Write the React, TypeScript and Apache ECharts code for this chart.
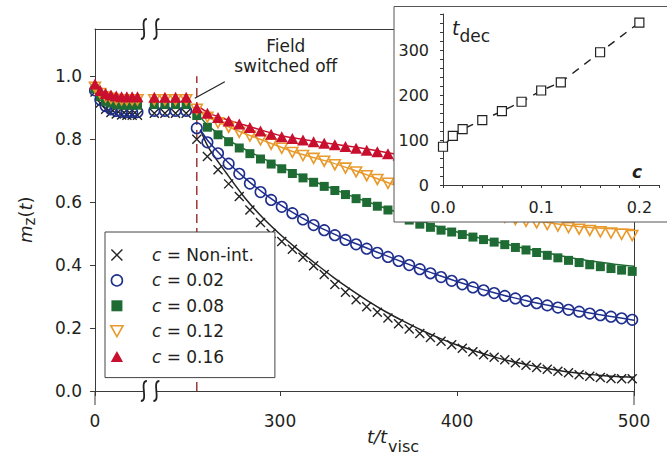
import React, { useEffect, useRef } from "react";
import * as echarts from "echarts";

// ---------- data ----------
// times (t / t_visc) of the markers while the field is on
const T_PRE = [0, 3, 6, 9, 12, 15, 18, 21, 24, 229, 235, 241, 247];
// times of the markers after the field is switched off
const T_POST = [
  253, 259, 265, 271, 277, 283, 289, 295, 301, 307, 313, 319, 325, 331,
  337, 343, 349, 355, 361, 367, 373, 379, 385, 391, 397, 403, 409, 415,
  421, 427, 433, 439, 445, 451, 457, 463, 469, 475, 481, 487, 493, 499,
];
// times of the fitted curves
const T_FIT = [
  255, 260, 270, 280, 290, 300, 310, 320, 330, 340, 350, 360, 370, 380,
  390, 400, 410, 420, 430, 440, 450, 460, 470, 480, 490, 500,
];

const BLACK_PRE = [0.95, 0.915, 0.895, 0.885, 0.88, 0.877, 0.876, 0.876, 0.876, 0.882, 0.882, 0.882, 0.882];
const BLACK_POST = [
  0.8, 0.745, 0.703, 0.658, 0.618, 0.575, 0.535, 0.5, 0.475, 0.45, 0.425, 0.398, 0.37, 0.338,
  0.314, 0.29, 0.268, 0.25, 0.232, 0.214, 0.197, 0.183, 0.17, 0.158, 0.147, 0.136, 0.125, 0.115,
  0.107, 0.099, 0.09, 0.082, 0.075, 0.069, 0.063, 0.058, 0.052, 0.047, 0.043, 0.04, 0.039, 0.039,
];
const BLACK_FIT = [
  0.83, 0.77, 0.69, 0.615, 0.552, 0.498, 0.45, 0.405, 0.362, 0.322, 0.285, 0.251, 0.221, 0.193,
  0.168, 0.146, 0.127, 0.11, 0.095, 0.083, 0.072, 0.063, 0.056, 0.05, 0.046, 0.044,
];

const BLUE_PRE = [0.955, 0.925, 0.905, 0.895, 0.89, 0.887, 0.886, 0.886, 0.886, 0.89, 0.89, 0.89, 0.89];
const BLUE_POST = [
  0.835, 0.79, 0.755, 0.722, 0.69, 0.659, 0.632, 0.607, 0.585, 0.565, 0.545, 0.527, 0.511, 0.495,
  0.48, 0.466, 0.452, 0.439, 0.426, 0.413, 0.4, 0.387, 0.374, 0.362, 0.35, 0.339, 0.329, 0.32,
  0.311, 0.302, 0.294, 0.286, 0.279, 0.272, 0.265, 0.258, 0.252, 0.246, 0.241, 0.236, 0.231, 0.226,
];
const BLUE_FIT = [
  0.83, 0.79, 0.73, 0.677, 0.632, 0.592, 0.558, 0.527, 0.5, 0.475, 0.452, 0.43, 0.408, 0.387,
  0.367, 0.348, 0.33, 0.314, 0.299, 0.286, 0.274, 0.263, 0.253, 0.243, 0.234, 0.225,
];

const GREEN_PRE = [0.96, 0.935, 0.92, 0.915, 0.91, 0.908, 0.908, 0.908, 0.908, 0.91, 0.91, 0.91, 0.91];
const GREEN_POST = [
  0.875, 0.838, 0.814, 0.792, 0.772, 0.754, 0.737, 0.721, 0.706, 0.691, 0.677, 0.663, 0.65, 0.637,
  0.624, 0.611, 0.599, 0.587, 0.575, 0.558, 0.543, 0.53, 0.52, 0.511, 0.505, 0.497, 0.489, 0.481,
  0.473, 0.465, 0.456, 0.448, 0.44, 0.431, 0.423, 0.415, 0.408, 0.401, 0.395, 0.389, 0.384, 0.38,
];
const GREEN_FIT = [
  0.87, 0.84, 0.8, 0.768, 0.74, 0.713, 0.688, 0.664, 0.642, 0.62, 0.6, 0.58, 0.56, 0.54,
  0.52, 0.505, 0.49, 0.477, 0.464, 0.451, 0.44, 0.428, 0.418, 0.41, 0.402, 0.396,
];

const ORANGE_PRE = [0.965, 0.945, 0.935, 0.93, 0.927, 0.925, 0.925, 0.925, 0.925, 0.925, 0.925, 0.925, 0.925];
const ORANGE_POST = [
  0.895, 0.87, 0.852, 0.838, 0.822, 0.81, 0.798, 0.784, 0.771, 0.758, 0.748, 0.739, 0.73, 0.719,
  0.708, 0.696, 0.684, 0.672, 0.66, 0.648, 0.636, 0.625, 0.614, 0.603, 0.593, 0.584, 0.575, 0.567,
  0.559, 0.552, 0.545, 0.539, 0.534, 0.529, 0.524, 0.519, 0.514, 0.51, 0.506, 0.502, 0.498, 0.494,
];
const ORANGE_FIT = [
  0.89, 0.868, 0.842, 0.818, 0.797, 0.776, 0.756, 0.74, 0.724, 0.705, 0.685, 0.664, 0.645, 0.627,
  0.61, 0.595, 0.58, 0.567, 0.555, 0.545, 0.536, 0.528, 0.522, 0.518, 0.515, 0.513,
];

const RED_PRE = [0.975, 0.955, 0.945, 0.94, 0.937, 0.935, 0.935, 0.935, 0.935, 0.933, 0.933, 0.933, 0.933];
const RED_POST = [
  0.9, 0.882, 0.869, 0.858, 0.848, 0.837, 0.826, 0.816, 0.808, 0.802, 0.797, 0.792, 0.787, 0.782,
  0.777, 0.771, 0.765, 0.76, 0.754, 0.749, 0.742, 0.737, 0.73, 0.725, 0.718, 0.713, 0.706, 0.7,
  0.695, 0.688, 0.683, 0.676, 0.671, 0.664, 0.659, 0.652, 0.647, 0.64, 0.635, 0.628, 0.623, 0.617,
];
const RED_FIT = [
  0.9, 0.882, 0.862, 0.845, 0.828, 0.812, 0.802, 0.793, 0.785, 0.777, 0.768, 0.758, 0.748, 0.738,
  0.728, 0.718, 0.709, 0.7, 0.69, 0.681, 0.672, 0.662, 0.653, 0.644, 0.635, 0.626,
];

const LEGEND_NAMES = ["Non-int.", "0.02", "0.08", "0.12", "0.16"];

// inset: decay time versus concentration
const INSET_C = [0, 0.01, 0.02, 0.04, 0.06, 0.08, 0.1, 0.12, 0.16, 0.2];
const INSET_TDEC = [85, 109, 124, 144, 164, 185, 210, 228, 295, 361];

// ticks
const X_TICKS = [0, 300, 400, 500];
const Y_TICKS = [0, 0.2, 0.4, 0.6, 0.8, 1.0];
const INSET_X_TICKS = [0, 0.1, 0.2];
const INSET_Y_TICKS = [0, 100, 200, 300];

const SWITCH_T = 253; // field switched off
const SWITCH_TOP = 1.0;

// ---------- broken axis mapping ----------
const BREAK_SHIFT = 195.5; // the right part of the axis is shifted left by this amount
const BREAK_AT = 31; // display position of the break
const toDisplay = (t: number) => (t < 100 ? t : t - BREAK_SHIFT);
const fromDisplay = (d: number) => (d < BREAK_AT ? d : d + BREAK_SHIFT);

// ---------- styles ----------
const FONT = "DejaVu Sans";
const TEXT = "#231f20";
const AXIS = "#3a3a3a";
const BLACK = "#222222";
const BLUE = "#1f2f8e";
const GREEN = "#1f6b34";
const ORANGE = "#e89a2c";
const RED = "#c8102e";
const DASH_RED = "#a13636";

const SERIES = [
  {
    name: LEGEND_NAMES[0], pre: BLACK_PRE, post: BLACK_POST, fit: BLACK_FIT, color: BLACK,
    symbol: "path://M0,0L10,10M10,0L0,10", size: 9,
    itemStyle: { color: "transparent", borderColor: BLACK, borderWidth: 1.4, opacity: 1 },
  },
  {
    name: LEGEND_NAMES[1], pre: BLUE_PRE, post: BLUE_POST, fit: BLUE_FIT, color: BLUE,
    symbol: "circle", size: 10.5,
    itemStyle: { color: "transparent", borderColor: BLUE, borderWidth: 1.6, opacity: 1 },
  },
  {
    name: LEGEND_NAMES[2], pre: GREEN_PRE, post: GREEN_POST, fit: GREEN_FIT, color: GREEN,
    symbol: "path://M0,0L10,0L10,10L0,10Z", size: 9,
    itemStyle: { color: GREEN, opacity: 1 },
  },
  {
    name: LEGEND_NAMES[3], pre: ORANGE_PRE, post: ORANGE_POST, fit: ORANGE_FIT, color: ORANGE,
    symbol: "path://M0,0L10,0L5,9Z", size: [11, 10],
    itemStyle: { color: "transparent", borderColor: ORANGE, borderWidth: 1.6, opacity: 1 },
  },
  {
    name: LEGEND_NAMES[4], pre: RED_PRE, post: RED_POST, fit: RED_FIT, color: RED,
    symbol: "path://M5,0L10,9L0,9Z", size: [12, 11],
    itemStyle: { color: RED, opacity: 1 },
  },
];

const range = (a: number, b: number, step: number) => {
  const out: number[] = [];
  for (let v = a; v <= b + 1e-9; v += step) out.push(Math.round(v * 1000) / 1000);
  return out;
};

export default function App() {
  const ref = useRef<HTMLDivElement>(null);

  useEffect(() => {
    if (!ref.current) return;
    const chart = echarts.init(ref.current, undefined, { renderer: "svg" });
    const T_ALL = T_PRE.concat(T_POST);
    const X_MAX = toDisplay(500);
    const Y_MIN = 0;
    const Y_MAX = 1.15;

    const mainSeries: any[] = [];
    mainSeries.push({
      type: "line",
      name: "switch",
      xAxisIndex: 0,
      yAxisIndex: 0,
      data: [[toDisplay(SWITCH_T), 0], [toDisplay(SWITCH_T), SWITCH_TOP]],
      symbol: "none",
      lineStyle: { color: DASH_RED, width: 1.5, type: [9, 5] },
      z: 1,
      silent: true,
    });
    SERIES.forEach((s) => {
      mainSeries.push({
        type: "scatter",
        name: s.name,
        xAxisIndex: 0,
        yAxisIndex: 0,
        data: T_ALL.map((t, i) => [toDisplay(t), s.pre.concat(s.post)[i]]),
        symbol: s.symbol,
        symbolSize: s.size,
        itemStyle: s.itemStyle,
        emphasis: { disabled: true },
        z: 2,
        silent: true,
      });
      mainSeries.push({
        type: "line",
        name: s.name + " fit",
        xAxisIndex: 0,
        yAxisIndex: 0,
        data: T_FIT.map((t, i) => [toDisplay(t), s.fit[i]]),
        symbol: "none",
        smooth: 0.3,
        lineStyle: { color: s.color, width: 1.5 },
        z: 2,
        silent: true,
      });
    });

    const option: any = {
      animation: false,
      textStyle: { fontFamily: FONT },
      grid: [
        { left: 95, right: 33, top: 29, bottom: 81 },
        { left: 443, right: 8, top: 14, bottom: 287 },
      ],
      legend: {
        show: true,
        orient: "vertical",
        left: 105,
        top: 232,
        padding: [13, 21, 11, 5],
        itemGap: 5.4,
        itemWidth: 60,
        itemHeight: 11,
        symbolKeepAspect: true,
        backgroundColor: "#fff",
        borderColor: "#444",
        borderWidth: 1,
        borderRadius: 0,
        selectedMode: false,
        data: SERIES.map((s) => ({ name: s.name, itemStyle: s.itemStyle })),
        formatter: (n: string) => `{i|c} = ${n}`,
        textStyle: {
          fontFamily: FONT,
          fontSize: 17,
          color: TEXT,
          lineHeight: 20,
          rich: {
            i: { fontFamily: FONT, fontSize: 17, fontStyle: "italic", color: TEXT, lineHeight: 20 },
          },
        },
      },
      xAxis: [
        {
          type: "value",
          gridIndex: 0,
          min: 0,
          max: X_MAX,
          axisLine: { show: true, onZero: false, lineStyle: { color: AXIS, width: 1 } },
          axisTick: {
            show: true,
            customValues: X_TICKS.map(toDisplay),
            length: 5,
            lineStyle: { color: AXIS },
          },
          axisLabel: {
            show: true,
            customValues: X_TICKS.map(toDisplay),
            formatter: (v: number) => String(Math.round(fromDisplay(v))),
            margin: 21,
            fontSize: 17,
            fontFamily: FONT,
            color: TEXT,
          },
          splitLine: { show: false },
        },
        {
          type: "value",
          gridIndex: 0,
          position: "top",
          min: 0,
          max: X_MAX,
          axisLine: { show: true, onZero: false, lineStyle: { color: AXIS, width: 1 } },
          axisTick: { show: false },
          axisLabel: { show: false },
          splitLine: { show: false },
        },
        {
          type: "value",
          gridIndex: 1,
          min: 0,
          max: 0.22,
          z: 12,
          axisLine: { show: true, lineStyle: { color: AXIS, width: 1 } },
          axisTick: {
            show: true,
            customValues: range(0, 0.22, 0.02),
            length: 3,
            lineStyle: { color: AXIS },
          },
          axisLabel: {
            show: true,
            customValues: INSET_X_TICKS,
            formatter: (v: number) => v.toFixed(1),
            margin: 14,
            fontSize: 16,
            fontFamily: FONT,
            color: TEXT,
          },
          splitLine: { show: false },
        },
      ],
      yAxis: [
        {
          type: "value",
          gridIndex: 0,
          min: Y_MIN,
          max: Y_MAX,
          axisLine: { show: true, onZero: false, lineStyle: { color: AXIS, width: 1 } },
          axisTick: {
            show: true,
            customValues: Y_TICKS,
            length: 5,
            lineStyle: { color: AXIS },
          },
          axisLabel: {
            show: true,
            customValues: Y_TICKS,
            formatter: (v: number) => v.toFixed(1),
            margin: 13,
            fontSize: 17,
            fontFamily: FONT,
            color: TEXT,
          },
          splitLine: { show: false },
        },
        {
          type: "value",
          gridIndex: 0,
          position: "right",
          min: Y_MIN,
          max: Y_MAX,
          axisLine: { show: true, onZero: false, lineStyle: { color: AXIS, width: 1 } },
          axisTick: { show: false },
          axisLabel: { show: false },
          splitLine: { show: false },
        },
        {
          type: "value",
          gridIndex: 1,
          min: 0,
          max: 380,
          z: 12,
          axisLine: { show: true, lineStyle: { color: AXIS, width: 1 } },
          axisTick: {
            show: true,
            customValues: range(0, 380, 20),
            length: 3,
            lineStyle: { color: AXIS },
          },
          axisLabel: {
            show: true,
            customValues: INSET_Y_TICKS,
            margin: 14,
            fontSize: 16,
            fontFamily: FONT,
            color: TEXT,
          },
          splitLine: { show: false },
        },
      ],
      series: [
        ...mainSeries,
        {
          type: "line",
          name: "tdec",
          xAxisIndex: 2,
          yAxisIndex: 2,
          data: INSET_C.map((c, i) => [c, INSET_TDEC[i]]),
          symbol: "rect",
          symbolSize: 9,
          showAllSymbol: true,
          itemStyle: { color: "#fff", borderColor: BLACK, borderWidth: 1.2 },
          lineStyle: { color: BLACK, width: 1.4, type: [8, 7] },
          z: 13,
          silent: true,
        },
      ],
    };

    chart.setOption(option);

    const px = (t: number, m: number) =>
      chart.convertToPixel({ xAxisIndex: 0, yAxisIndex: 0 }, [toDisplay(t), m]) as number[];
    const [ax, ay] = px(SWITCH_T, 0.935);
    const brkX = (chart.convertToPixel({ xAxisIndex: 0, yAxisIndex: 0 }, [BREAK_AT, 0]) as number[])[0];
    const [xLeft, yBottom] = px(0, 0);
    const xRight = px(500, 0)[0];
    const yTop = px(0, Y_MAX)[1];

    const breakMark = (cx: number, cy: number) => {
      const curve = (x: number) => ({
        type: "bezierCurve",
        shape: { x1: x + 3, y1: cy - 10, cpx1: x - 5, cpy1: cy - 10, cpx2: x + 5, cpy2: cy + 10, x2: x - 3, y2: cy + 10 },
        style: { stroke: BLACK, lineWidth: 1.8, fill: "none" },
        z: 21,
      });
      return [
        { type: "rect", shape: { x: cx - 6, y: cy - 3, width: 12, height: 6 }, style: { fill: "#fff" }, z: 20 },
        curve(cx - 6),
        curve(cx + 6.5),
      ];
    };

    const txt = (text: string, x: number, y: number, size: number, extra: any = {}, z = 15) => ({
      type: "text",
      x,
      y,
      z,
      style: {
        text,
        fontFamily: FONT,
        fontSize: size,
        fill: TEXT,
        textAlign: "left",
        textVerticalAlign: "middle",
        ...extra,
      },
    });

    chart.setOption({
      graphic: [
        // inset background and frame
        {
          type: "rect",
          shape: { x: 394, y: 6.5, width: 300, height: 215.5 },
          style: { fill: "#fff", stroke: "#555", lineWidth: 1 },
          z: 10,
        },
        // extensions of the vertical frame below the x axis
        { type: "line", shape: { x1: xLeft, y1: yBottom, x2: xLeft, y2: yBottom + 14 }, style: { stroke: AXIS, lineWidth: 1 }, z: 5 },
        { type: "line", shape: { x1: xRight, y1: yBottom, x2: xRight, y2: yBottom + 14 }, style: { stroke: AXIS, lineWidth: 1 }, z: 5 },
        ...breakMark(brkX, yTop),
        ...breakMark(brkX, yBottom),
        // annotation
        {
          type: "line",
          shape: { x1: ax + 28, y1: ay - 15, x2: ax - 2, y2: ay + 1.5 },
          style: { stroke: BLACK, lineWidth: 1.2 },
          z: 15,
        },
        {
          type: "text",
          x: ax + 89,
          y: ay - 41,
          z: 15,
          style: {
            text: "Field\nswitched off",
            fontFamily: FONT,
            fontSize: 17,
            lineHeight: 20,
            fill: TEXT,
            textAlign: "center",
            textVerticalAlign: "middle",
          },
        },
        // x axis title: t/t_visc
        txt("t/t", 367, 436, 18, { fontStyle: "italic" }),
        txt("visc", 388, 446, 16),
        // y axis title: m_z(t), rotated
        {
          type: "group",
          x: 25,
          y: 218,
          rotation: Math.PI / 2,
          children: [
            txt("m", -25, 0, 18, { fontStyle: "italic" }),
            txt("z", -7.5, 5, 15),
            txt("(", 0.5, 0, 18),
            txt("t", 7.5, 0, 18, { fontStyle: "italic" }),
            txt(")", 14.6, 0, 18),
          ],
        },
        // inset titles
        txt("t", 452, 28, 19, { fontStyle: "italic" }),
        txt("dec", 459.5, 36, 17),
        txt("c", 637, 172, 17, { fontStyle: "italic", fontWeight: "bold", textAlign: "center" }),
      ],
    });

    return () => chart.dispose();
  }, []);

  return (
    <div
      ref={ref}
      style={{ position: "fixed", left: 0, top: 0, width: 667, height: 472, background: "#fff" }}
    />
  );
}
